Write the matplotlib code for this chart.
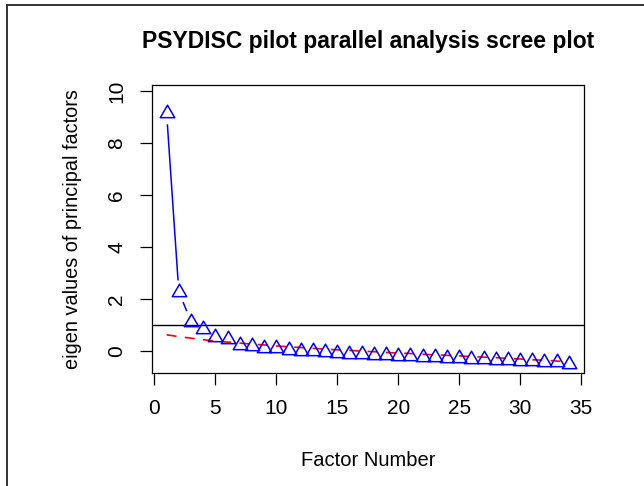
"""Scree plot of the PSYDISC pilot parallel analysis."""

import matplotlib

matplotlib.use("Agg")
import numpy as np
from matplotlib import pyplot as plt
from matplotlib.lines import Line2D
from matplotlib.path import Path

factors = np.arange(1, 35)
observed = [
    9.15, 2.28, 1.13, 0.83, 0.54, 0.46, 0.23, 0.17, 0.13, 0.12,
    0.03, 0.01, -0.02, -0.05, -0.09, -0.11, -0.13, -0.15, -0.17, -0.19,
    -0.21, -0.22, -0.24, -0.26, -0.28, -0.30, -0.32, -0.34, -0.36, -0.38,
    -0.40, -0.43, -0.44, -0.51,
]
simulated = [
    0.62, 0.55, 0.49, 0.43, 0.38, 0.34, 0.30, 0.26, 0.23, 0.19,
    0.16, 0.13, 0.10, 0.07, 0.04, 0.02, -0.01, -0.03, -0.06, -0.08,
    -0.10, -0.13, -0.15, -0.17, -0.19, -0.22, -0.24, -0.26, -0.29, -0.31,
    -0.34, -0.36, -0.39, -0.43,
]
xticks = [0, 5, 10, 15, 20, 25, 30, 35]
yticks = [0, 2, 4, 6, 8, 10]


def _gapped_segments(ax, xs, ys, gap_px):
    """Line segments between points, cut short near each point (R type='b')."""
    trans = ax.transData
    pts = trans.transform(np.column_stack([xs, ys]))
    inv = trans.inverted()
    segs = []
    for p0, p1 in zip(pts[:-1], pts[1:]):
        d = p1 - p0
        length = np.hypot(*d)
        if length <= 2 * gap_px:
            continue
        u = d / length
        a = inv.transform(p0 + u * gap_px)
        b = inv.transform(p1 - u * gap_px)
        segs.append((a, b))
    return segs


def _main() -> None:
    plt.rcParams["font.family"] = ["Liberation Sans", "DejaVu Sans"]
    fig = plt.figure(figsize=(6.44, 4.86), dpi=100)
    ax = fig.add_axes([0.236, 0.2325, 0.671, 0.5925])
    ax.set_xlim(-0.2, 35.25)
    ax.set_ylim(-0.85, 10.23)

    # open triangle like R's pch = 2
    tri = Path([(0, 0.577), (-0.5, -0.289), (0.5, -0.289), (0, 0.577)],
               closed=True)
    ax.plot(factors, simulated, color="red", lw=1.2, dashes=(6, 5))
    ax.axhline(1, color="black", lw=1.0)
    ax.plot(factors, observed, linestyle="none", marker=tri, markersize=12,
            markerfacecolor="none", markeredgecolor="blue", markeredgewidth=1.1)
    fig.canvas.draw()
    for a, b in _gapped_segments(ax, factors, observed, 12):
        ax.plot([a[0], b[0]], [a[1], b[1]], color="blue", lw=1.1)

    ax.set_xticks(xticks)
    ax.set_yticks(yticks)
    ax.set_yticklabels([str(t) for t in yticks], rotation=90, va="center")
    ax.tick_params(direction="out", length=8.5, width=0.9, labelsize=15)
    ax.tick_params(axis="x", pad=10)
    ax.tick_params(axis="y", pad=10)
    for s in ax.spines.values():
        s.set_linewidth(0.9)
    ax.set_xlabel("Factor Number", fontsize=14.5, labelpad=24)
    ax.set_ylabel("eigen values of principal factors", fontsize=14.3,
                  labelpad=18)
    ax.set_title("PSYDISC pilot parallel analysis scree plot", fontsize=16.5,
                 fontweight="bold", pad=27)

    # Frame around the picture (top and left edges only).
    fig.add_artist(Line2D([0.0108, 0.0108], [0, 0.99], transform=fig.transFigure,
                          color="#333333", lw=1.4))
    fig.add_artist(Line2D([0.0108, 1], [0.99, 0.99], transform=fig.transFigure,
                          color="#333333", lw=1.4))
    fig.savefig("out.png", dpi=100)


if __name__ == "__main__":
    _main()
